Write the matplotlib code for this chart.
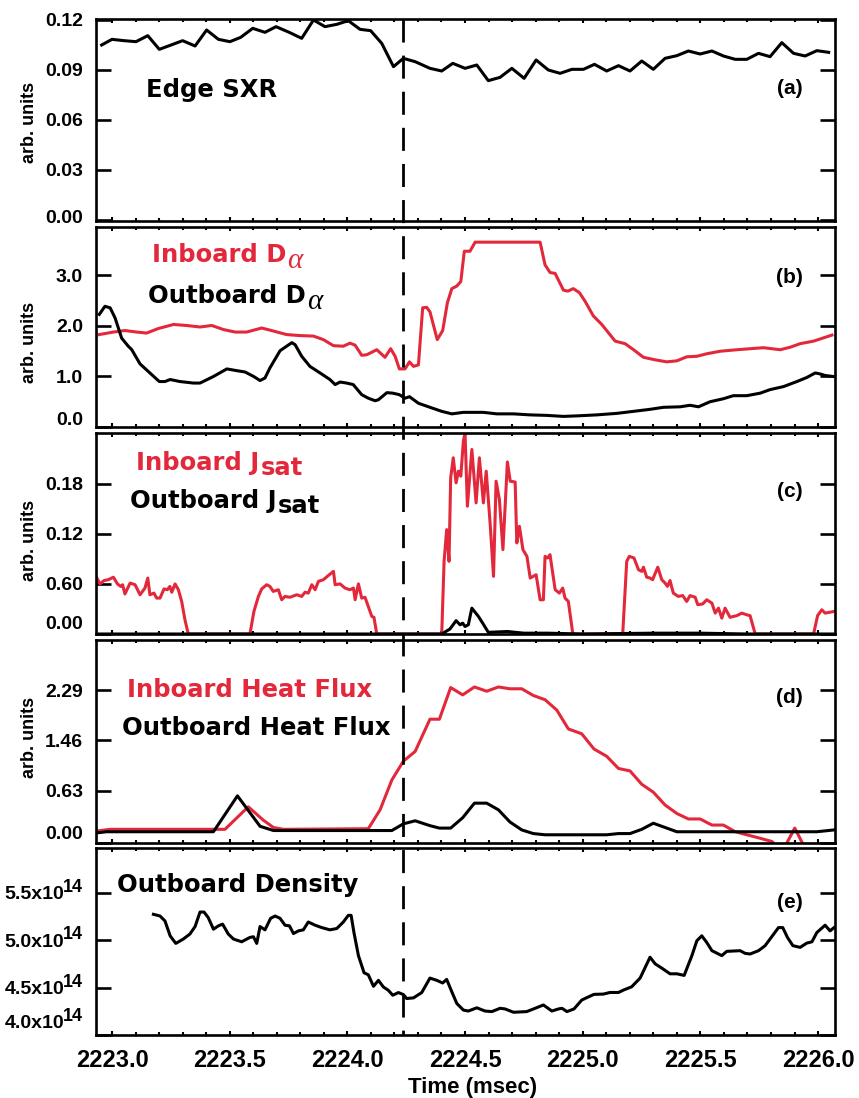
import matplotlib
matplotlib.use("Agg")
import matplotlib.pyplot as plt
import matplotlib.transforms as mtransforms
from matplotlib import font_manager
from matplotlib.lines import Line2D
from matplotlib.ticker import MultipleLocator, NullLocator

# ---------------------------------------------------------------- data
sxr_t = [2222.956, 2223.000, 2223.051, 2223.102, 2223.152, 2223.201, 2223.251, 2223.300,
         2223.353, 2223.402, 2223.452, 2223.501, 2223.547, 2223.598, 2223.650, 2223.697,
         2223.756, 2223.806, 2223.856, 2223.905, 2223.955, 2224.004, 2224.054, 2224.099,
         2224.146, 2224.196, 2224.238, 2224.288, 2224.351, 2224.401, 2224.448, 2224.500,
         2224.550, 2224.599, 2224.649, 2224.699, 2224.751, 2224.802, 2224.854, 2224.904,
         2224.954, 2225.003, 2225.050, 2225.102, 2225.152, 2225.201, 2225.251, 2225.300,
         2225.350, 2225.400, 2225.449, 2225.499, 2225.549, 2225.598, 2225.648, 2225.697,
         2225.747, 2225.796, 2225.846, 2225.896, 2225.945, 2225.995, 2226.045]
sxr = [0.1050, 0.1084, 0.1076, 0.1070, 0.1106, 0.1024, 0.1050, 0.1076, 0.1044, 0.1140,
       0.1084, 0.1070, 0.1096, 0.1150, 0.1126, 0.1160, 0.1124, 0.1090, 0.1200, 0.1160,
       0.1174, 0.1196, 0.1144, 0.1136, 0.1060, 0.0920, 0.0970, 0.0950, 0.0910,
       0.0894, 0.0940, 0.0910, 0.0930, 0.0836, 0.0856, 0.0910, 0.0850, 0.0960, 0.0900,
       0.0880, 0.0904, 0.0904, 0.0934, 0.0894, 0.0926, 0.0894, 0.0954, 0.0904, 0.0970,
       0.0986, 0.1014, 0.0996, 0.1014, 0.0984, 0.0964, 0.0964, 0.1000, 0.0980, 0.1064,
       0.1000, 0.0984, 0.1016, 0.1006]

da_in_t = [2222.946, 2223.006, 2223.055, 2223.105, 2223.147, 2223.197, 2223.261, 2223.317,
           2223.374, 2223.424, 2223.473, 2223.523, 2223.572, 2223.636, 2223.686, 2223.742,
           2223.799, 2223.856, 2223.898, 2223.941, 2223.983, 2224.011, 2224.033, 2224.061,
           2224.082, 2224.125, 2224.160, 2224.184, 2224.203, 2224.221, 2224.245, 2224.264,
           2224.281, 2224.302, 2224.320, 2224.337, 2224.351, 2224.382, 2224.405, 2224.425,
           2224.444, 2224.465, 2224.482, 2224.497, 2224.521, 2224.543, 2224.819, 2224.840,
           2224.861, 2224.883, 2224.918, 2224.937, 2224.960, 2224.986, 2225.010, 2225.045,
           2225.081, 2225.138, 2225.180, 2225.216, 2225.258, 2225.308, 2225.357, 2225.400,
           2225.442, 2225.485, 2225.527, 2225.584, 2225.655, 2225.711, 2225.768, 2225.839,
           2225.882, 2225.924, 2225.981, 2226.059]
da_in = [1.83, 1.88, 1.91, 1.88, 1.86, 1.95, 2.03, 2.01, 1.98, 2.01, 1.93, 1.88, 1.88, 1.96,
         1.90, 1.83, 1.81, 1.80, 1.73, 1.61, 1.60, 1.66, 1.62, 1.42, 1.43, 1.53, 1.38, 1.55,
         1.40, 1.15, 1.15, 1.29, 1.20, 1.23, 2.36, 2.37, 2.28, 1.73, 1.91, 2.46, 2.74, 2.79,
         2.88, 3.48, 3.48, 3.66, 3.66, 3.21, 3.06, 3.04, 2.71, 2.69, 2.74, 2.66, 2.49, 2.20,
         2.03, 1.70, 1.65, 1.53, 1.38, 1.33, 1.29, 1.31, 1.39, 1.40, 1.45, 1.50, 1.53, 1.55,
         1.57, 1.53, 1.58, 1.65, 1.70, 1.82]

da_out_t = [2222.946, 2222.970, 2222.992, 2223.013, 2223.041, 2223.069, 2223.084, 2223.119,
            2223.154, 2223.201, 2223.225, 2223.247, 2223.289, 2223.346, 2223.374, 2223.431,
            2223.488, 2223.537, 2223.565, 2223.602, 2223.629, 2223.650, 2223.671, 2223.714,
            2223.764, 2223.778, 2223.806, 2223.841, 2223.884, 2223.926, 2223.948, 2223.969,
            2223.997, 2224.025, 2224.061, 2224.089, 2224.118, 2224.132, 2224.168, 2224.193,
            2224.221, 2224.245, 2224.264, 2224.302, 2224.351, 2224.401, 2224.444, 2224.493,
            2224.578, 2224.635, 2224.706, 2224.776, 2224.847, 2224.918, 2224.975, 2225.060,
            2225.145, 2225.216, 2225.286, 2225.343, 2225.414, 2225.456, 2225.492, 2225.541,
            2225.598, 2225.640, 2225.697, 2225.754, 2225.796, 2225.853, 2225.910, 2225.952,
            2225.988, 2226.009, 2226.030, 2226.065]
da_out = [2.23, 2.39, 2.36, 2.16, 1.76, 1.60, 1.53, 1.25, 1.10, 0.90, 0.90, 0.94, 0.90, 0.87,
          0.87, 1.00, 1.15, 1.11, 1.09, 1.00, 0.92, 0.97, 1.17, 1.51, 1.67, 1.63, 1.40, 1.20,
          1.07, 0.94, 0.84, 0.89, 0.87, 0.84, 0.64, 0.57, 0.52, 0.54, 0.68, 0.67, 0.64, 0.57,
          0.60, 0.47, 0.39, 0.31, 0.26, 0.29, 0.29, 0.26, 0.26, 0.24, 0.23, 0.21, 0.22, 0.24,
          0.27, 0.31, 0.35, 0.39, 0.40, 0.43, 0.40, 0.50, 0.56, 0.62, 0.62, 0.67, 0.74, 0.80,
          0.90, 0.98, 1.07, 1.05, 1.02, 1.00]

js_in_t = [2222.932, 2222.949, 2222.966, 2222.984, 2223.006, 2223.023, 2223.037, 2223.045,
           2223.055, 2223.077, 2223.098, 2223.119, 2223.140, 2223.152, 2223.161, 2223.178,
           2223.190, 2223.204, 2223.221, 2223.235, 2223.246, 2223.254, 2223.268, 2223.282,
           2223.296, 2223.310, 2223.324, 2223.586, 2223.603, 2223.622, 2223.636, 2223.657,
           2223.671, 2223.685, 2223.707, 2223.721, 2223.735, 2223.756, 2223.785, 2223.806,
           2223.820, 2223.834, 2223.849, 2223.863, 2223.877, 2223.898, 2223.919, 2223.941,
           2223.948, 2223.969, 2223.990, 2224.011, 2224.026, 2224.033, 2224.047, 2224.061,
           2224.075, 2224.089, 2224.104, 2224.113, 2224.125, 2224.401, 2224.411, 2224.422,
           2224.432, 2224.439, 2224.450, 2224.462, 2224.472, 2224.482, 2224.493, 2224.500,
           2224.510, 2224.529, 2224.547, 2224.561, 2224.578, 2224.590, 2224.607, 2224.621,
           2224.632, 2224.646, 2224.661, 2224.680, 2224.692, 2224.713, 2224.720, 2224.731,
           2224.746, 2224.763, 2224.777, 2224.802, 2224.819, 2224.833, 2224.840, 2224.851,
           2224.861, 2224.883, 2224.901, 2224.915, 2224.925, 2224.939, 2224.958, 2225.170,
           2225.187, 2225.198, 2225.218, 2225.237, 2225.251, 2225.258, 2225.272, 2225.286,
           2225.297, 2225.319, 2225.336, 2225.350, 2225.360, 2225.371, 2225.385, 2225.406,
           2225.425, 2225.442, 2225.456, 2225.478, 2225.489, 2225.510, 2225.527, 2225.549,
           2225.563, 2225.577, 2225.591, 2225.605, 2225.626, 2225.655, 2225.676, 2225.697,
           2225.711, 2225.733, 2225.981, 2225.998, 2226.016, 2226.030, 2226.049, 2226.068]
js_in = [0.069, 0.060, 0.064, 0.065, 0.068, 0.060, 0.057, 0.059, 0.048, 0.061, 0.059, 0.047,
         0.055, 0.067, 0.047, 0.049, 0.043, 0.043, 0.054, 0.053, 0.057, 0.050, 0.060, 0.053,
         0.039, 0.017, 0.000, 0.000, 0.027, 0.045, 0.054, 0.059, 0.057, 0.051, 0.053, 0.041,
         0.045, 0.044, 0.047, 0.045, 0.050, 0.049, 0.059, 0.053, 0.063, 0.065, 0.070, 0.075,
         0.059, 0.060, 0.055, 0.053, 0.055, 0.041, 0.060, 0.043, 0.044, 0.033, 0.021, 0.020,
         0.000, 0.000, 0.087, 0.125, 0.087, 0.187, 0.211, 0.181, 0.195, 0.189, 0.231, 0.241,
         0.153, 0.221, 0.157, 0.211, 0.157, 0.195, 0.131, 0.069, 0.183, 0.161, 0.101, 0.206,
         0.183, 0.182, 0.109, 0.129, 0.101, 0.093, 0.067, 0.071, 0.041, 0.041, 0.093, 0.091,
         0.095, 0.053, 0.049, 0.055, 0.043, 0.039, 0.000, 0.000, 0.087, 0.093, 0.091, 0.077,
         0.075, 0.080, 0.068, 0.067, 0.065, 0.080, 0.065, 0.061, 0.057, 0.064, 0.049, 0.045,
         0.046, 0.039, 0.046, 0.044, 0.035, 0.036, 0.041, 0.037, 0.025, 0.031, 0.019, 0.031,
         0.020, 0.022, 0.025, 0.023, 0.022, 0.000, 0.000, 0.022, 0.029, 0.025, 0.026, 0.027]

js_out_t = [2222.932, 2224.401, 2224.436, 2224.462, 2224.479, 2224.490, 2224.500, 2224.514,
            2224.529, 2224.557, 2224.575, 2224.599, 2224.680, 2224.750, 2224.850, 2225.000,
            2225.300, 2225.500, 2225.700, 2226.072]
js_out = [0.000, 0.000, 0.006, 0.016, 0.011, 0.013, 0.009, 0.011, 0.031, 0.021, 0.013, 0.002,
          0.003, 0.001, 0.001, 0.000, 0.001, 0.001, 0.000, 0.000]

hf_in_t = [2222.932, 2222.992, 2223.431, 2223.480, 2223.579, 2223.643, 2223.686, 2223.728,
           2224.089, 2224.139, 2224.189, 2224.238, 2224.288, 2224.351, 2224.391, 2224.439,
           2224.490, 2224.540, 2224.592, 2224.642, 2224.691, 2224.741, 2224.790, 2224.840,
           2224.890, 2224.939, 2224.996, 2225.048, 2225.102, 2225.152, 2225.201, 2225.251,
           2225.300, 2225.350, 2225.400, 2225.449, 2225.499, 2225.549, 2225.598, 2225.648,
           2225.697, 2225.747, 2225.804, 2225.830, 2225.850, 2225.901, 2225.950, 2226.072]
hf_in = [-0.03, 0.00, 0.00, 0.00, 0.37, 0.15, 0.03, 0.00, 0.01, 0.32, 0.81, 1.12, 1.28,
         1.81, 1.81, 2.33, 2.21, 2.34, 2.27, 2.34, 2.31, 2.31, 2.20, 2.13, 1.96, 1.65, 1.57,
         1.32, 1.20, 1.00, 0.96, 0.74, 0.61, 0.40, 0.26, 0.17, 0.17, 0.07, 0.07, -0.04,
         -0.09, -0.14, -0.20, -0.30, -0.35, 0.02, -0.35, -0.35]

hf_out_t = [2222.932, 2222.977, 2223.431, 2223.533, 2223.629, 2223.686, 2224.189, 2224.238,
            2224.288, 2224.351, 2224.391, 2224.439, 2224.490, 2224.540, 2224.592, 2224.642,
            2224.691, 2224.741, 2224.790, 2224.840, 2225.102, 2225.152, 2225.201, 2225.251,
            2225.300, 2225.350, 2225.400, 2225.995, 2226.068]
hf_out = [-0.06, -0.04, -0.04, 0.55, 0.05, -0.02, -0.02, 0.09, 0.14, 0.06, 0.02, 0.02, 0.19,
          0.43, 0.43, 0.32, 0.12, -0.01, -0.07, -0.09, -0.09, -0.07, -0.07, 0.00, 0.10, 0.03,
          -0.04, -0.04, -0.01]

dens_t = [2223.176, 2223.204, 2223.225, 2223.247, 2223.271, 2223.303, 2223.331, 2223.353,
          2223.374, 2223.391, 2223.409, 2223.431, 2223.452, 2223.470, 2223.494, 2223.516,
          2223.551, 2223.586, 2223.601, 2223.615, 2223.629, 2223.650, 2223.674, 2223.693,
          2223.714, 2223.735, 2223.754, 2223.771, 2223.792, 2223.813, 2223.834, 2223.863,
          2223.891, 2223.926, 2223.955, 2223.983, 2224.004, 2224.016, 2224.028, 2224.047,
          2224.071, 2224.089, 2224.111, 2224.132, 2224.153, 2224.174, 2224.193, 2224.217,
          2224.238, 2224.252, 2224.281, 2224.316, 2224.351, 2224.380, 2224.405, 2224.422,
          2224.444, 2224.465, 2224.493, 2224.514, 2224.550, 2224.585, 2224.614, 2224.649,
          2224.670, 2224.706, 2224.762, 2224.798, 2224.833, 2224.869, 2224.897, 2224.912,
          2224.933, 2224.963, 2224.996, 2225.017, 2225.048, 2225.088, 2225.116, 2225.152,
          2225.173, 2225.208, 2225.244, 2225.286, 2225.308, 2225.336, 2225.371, 2225.400,
          2225.431, 2225.464, 2225.485, 2225.506, 2225.527, 2225.549, 2225.591, 2225.612,
          2225.669, 2225.690, 2225.711, 2225.747, 2225.775, 2225.832, 2225.850, 2225.870,
          2225.893, 2225.924, 2225.952, 2225.974, 2225.995, 2226.030, 2226.051, 2226.068]
dens = [5.274, 5.256, 5.204, 5.047, 4.967, 5.013, 5.066, 5.145, 5.298, 5.298, 5.239, 5.117,
        5.152, 5.170, 5.066, 5.013, 4.984, 5.030, 5.037, 4.967, 5.145, 5.110, 5.232, 5.256,
        5.232, 5.159, 5.152, 5.071, 5.099, 5.110, 5.193, 5.159, 5.134, 5.110, 5.124, 5.193,
        5.263, 5.263, 5.082, 4.838, 4.657, 4.636, 4.514, 4.577, 4.507, 4.472, 4.420, 4.448,
        4.427, 4.385, 4.392, 4.448, 4.601, 4.577, 4.549, 4.587, 4.455, 4.333, 4.263, 4.253,
        4.287, 4.253, 4.247, 4.282, 4.275, 4.240, 4.247, 4.282, 4.317, 4.253, 4.275, 4.282,
        4.247, 4.275, 4.369, 4.394, 4.429, 4.432, 4.449, 4.449, 4.474, 4.509, 4.601, 4.821,
        4.751, 4.706, 4.646, 4.646, 4.629, 4.838, 4.995, 5.047, 4.977, 4.890, 4.838, 4.883,
        4.890, 4.862, 4.855, 4.890, 4.943, 5.134, 5.134, 5.030, 4.943, 4.925, 4.970, 4.984,
        5.082, 5.159, 5.099, 5.134]
DENS_SCALE = 1e14

event_time = 2224.237
time_range = (2222.932, 2226.072)

sxr_ticks = [0.0, 0.03, 0.06, 0.09, 0.12]
sxr_labels = ["0.00", "0.03", "0.06", "0.09", "0.12"]
da_ticks = [0.0, 1.0, 2.0, 3.0]
da_labels = ["0.0", "1.0", "2.0", "3.0"]
js_ticks = [0.0, 0.06, 0.12, 0.18]
js_labels = ["0.00", "0.60", "0.12", "0.18"]
hf_ticks = [-0.225, 0.63, 1.46, 2.29]
hf_labels = ["0.00", "0.63", "1.46", "2.29"]
dens_ticks = [4.0, 4.5, 5.0, 5.5]
dens_labels = ["4.0x10", "4.5x10", "5.0x10", "5.5x10"]
time_ticks = [2223.0, 2223.5, 2224.0, 2224.5, 2225.0, 2225.5, 2226.0]
time_labels = ["2223.0", "2223.5", "2224.0", "2224.5", "2225.0", "2225.5", "2226.0"]

# ---------------------------------------------------------------- style
W, H, DPI = 859, 1098, 100
RED = "#e2283a"
names = {f.name for f in font_manager.fontManager.ttflist}
NARROW = "Liberation Sans Narrow" if "Liberation Sans Narrow" in names else "Liberation Sans"
SANS = "Liberation Sans"
LABEL_FONT = "DejaVu Sans"
narrow_ok = NARROW == "Liberation Sans Narrow"
YT_SIZE = 15 if narrow_ok else 14
XT_SIZE = 19 if narrow_ok else 17

plt.rcParams["font.family"] = [NARROW, "DejaVu Sans"]
plt.rcParams["font.weight"] = "bold"

fig = plt.figure(figsize=(W / DPI, H / DPI), dpi=DPI)

LEFT, RIGHT = 96, 835
rows = [(19, 221), (227, 427), (433, 634), (640, 843), (848, 1035)]


def make_axes(top, bottom):
    return fig.add_axes([LEFT / W, 1 - bottom / H, (RIGHT - LEFT) / W, (bottom - top) / H])


def style(ax, ylim, ticks, labels, bottom_label=None, bottom_shift=0):
    ax.set_xlim(*time_range)
    ax.set_ylim(*ylim)
    for sp in ax.spines.values():
        sp.set_linewidth(1.9)
    ax.xaxis.set_major_locator(MultipleLocator(0.5))
    ax.xaxis.set_minor_locator(MultipleLocator(0.1))
    ax.tick_params(axis="x", which="both", direction="in", top=True, bottom=True,
                   width=1.5, labelbottom=False)
    ax.tick_params(axis="x", which="major", length=3.2)
    ax.tick_params(axis="x", which="minor", length=2.2)
    ax.yaxis.set_minor_locator(NullLocator())
    ax.set_yticks(ticks, ["" if i == 0 else s for i, s in enumerate(labels)])
    ax.tick_params(axis="y", which="major", direction="in", left=True, right=True,
                   length=11, width=1.9, pad=9.4, labelsize=YT_SIZE)
    if bottom_label is not None:
        ax.annotate(bottom_label, xy=(0, 0), xycoords="axes fraction",
                    xytext=(-9.4, bottom_shift), textcoords="offset points",
                    ha="right", va="center", fontsize=YT_SIZE, fontweight="bold")


def fig_text(xpx, ypx, s, **kw):
    return fig.text(xpx / W, 1 - ypx / H, s, **kw)


LW = 2.2

# (a) edge SXR
ax_a = make_axes(*rows[0])
ax_a.plot(sxr_t, sxr, color="black", lw=LW)
style(ax_a, (-0.0006, 0.1206), sxr_ticks, sxr_labels, sxr_labels[0], 1.5)

# (b) D-alpha
ax_b = make_axes(*rows[1])
ax_b.plot(da_in_t, da_in, color=RED, lw=LW)
ax_b.plot(da_out_t, da_out, color="black", lw=LW)
style(ax_b, (0.0, 3.96), da_ticks, da_labels, da_labels[0], 5.0)

# (c) J_sat
ax_c = make_axes(*rows[2])
ax_c.plot(js_in_t, js_in, color=RED, lw=LW)
ax_c.plot(js_out_t, js_out, color="black", lw=LW)
style(ax_c, (0.0, 0.2407), js_ticks, js_labels, js_labels[0], 6.5)

# (d) heat flux
ax_d = make_axes(*rows[3])
ax_d.plot(hf_in_t, hf_in, color=RED, lw=LW)
ax_d.plot(hf_out_t, hf_out, color="black", lw=LW)
style(ax_d, (-0.225, 3.112), hf_ticks, hf_labels, hf_labels[0], 5.8)

# (e) density
ax_e = make_axes(*rows[4])
ax_e.plot(dens_t, [v * DENS_SCALE for v in dens], color="black", lw=LW)
style(ax_e, (4.019 * DENS_SCALE, 5.974 * DENS_SCALE), [v * DENS_SCALE for v in dens_ticks],
      ["" for _ in dens_ticks])
ax_e.set_xticks(time_ticks, time_labels)
ax_e.tick_params(axis="x", which="major", labelbottom=True, labelsize=XT_SIZE, pad=10)
for i, (val, lab) in enumerate(zip(dens_ticks, dens_labels)):
    shift = 9.5 if i == 0 else 0.0
    ax_e.annotate(lab, xy=(0, val * DENS_SCALE), xycoords=("axes fraction", "data"),
                  xytext=(-23.0, shift - 1.5), textcoords="offset points",
                  ha="right", va="center", fontsize=YT_SIZE, fontweight="bold")
    ax_e.annotate("14", xy=(0, val * DENS_SCALE), xycoords=("axes fraction", "data"),
                  xytext=(-9.4, shift + 4.0), textcoords="offset points",
                  ha="right", va="center", fontsize=YT_SIZE - 1, fontweight="bold")

# axis labels
for yc in (122, 342, 540, 737):
    fig_text(29, yc, "arb. units", rotation=90, ha="center", va="center",
             fontsize=13, fontweight="bold", family=SANS)
fig_text(473, 1087, "Time (msec)", ha="center", va="center", fontsize=16,
         fontweight="bold", family=SANS)

# panel tags
for ypx, tag in zip((94, 283, 497, 703, 908), ("(a)", "(b)", "(c)", "(d)", "(e)")):
    fig_text(803, ypx, tag, ha="right", va="baseline", fontsize=15,
             fontweight="bold", family=SANS)

# signal names
TS = 17.5
kw = dict(fontsize=TS, fontweight="bold", family=LABEL_FONT, va="baseline", ha="left")
fig_text(146, 97, "Edge SXR", color="black", **kw)
t1 = fig_text(152, 262, "Inboard D", color=RED, **kw)
t2 = fig_text(148, 303, "Outboard D", color="black", **kw)
t3 = fig_text(136, 470, "Inboard J", color=RED, **kw)
t4 = fig_text(130, 508, "Outboard J", color="black", **kw)
fig_text(127, 697, "Inboard Heat Flux", color=RED, **kw)
fig_text(122, 735, "Outboard Heat Flux", color="black", **kw)
fig_text(117, 892, "Outboard Density", color="black", **kw)

# lowered alpha / "sat" pieces placed right after their base texts
fig.canvas.draw()
renderer = fig.canvas.get_renderer()
akw = dict(fontsize=21, family="Liberation Serif", style="italic", fontweight="normal",
           va="baseline", ha="left")
skw = dict(fontsize=TS, fontweight="bold", family=LABEL_FONT, va="baseline", ha="left")
for base, ypx, piece, pkw, drop, gap in (
        (t1, 262, "\u03b1", akw, 6, 1), (t2, 303, "\u03b1", akw, 6, 1),
        (t3, 470, "sat", skw, 5, 1), (t4, 508, "sat", skw, 5, 1)):
    x1 = base.get_window_extent(renderer).x1
    fig.text((x1 + gap) / W, 1 - (ypx + drop) / H, piece, color=base.get_color(), **pkw)

# event marker spanning all panels
trans = mtransforms.blended_transform_factory(ax_e.transData, fig.transFigure)
fig.add_artist(Line2D([event_time, event_time], [1 - 19 / H, 1 - 1035 / H],
                      transform=trans, color="black", lw=2.0, dashes=(8.3, 4.7)))

fig.savefig("out.png", dpi=DPI)
